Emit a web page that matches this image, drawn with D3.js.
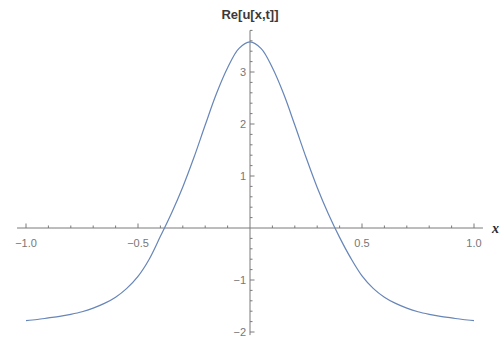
<!DOCTYPE html>
<html>
<head>
<meta charset="utf-8">
<script src="https://cdn.jsdelivr.net/npm/d3@7"></script>
<style>
  html, body { margin: 0; padding: 0; background: #fff; }
  svg { display: block; }
</style>
</head>
<body>
<svg id="chart" width="504" height="342"></svg>
<script>
// Sampled profile of Re[u[x,t]] along x
const xValues = [
  -1.00, -0.95, -0.90, -0.85, -0.80, -0.75, -0.70, -0.65, -0.60, -0.55,
  -0.50, -0.45, -0.40, -0.35, -0.30, -0.25, -0.20, -0.15, -0.10, -0.05,
   0.00,
   0.05,  0.10,  0.15,  0.20,  0.25,  0.30,  0.35,  0.40,  0.45,  0.50,
   0.55,  0.60,  0.65,  0.70,  0.75,  0.80,  0.85,  0.90,  0.95,  1.00
];
const reValues = [
  -1.78, -1.76, -1.73, -1.70, -1.66, -1.61, -1.54, -1.45, -1.33, -1.16,
  -0.93, -0.60, -0.16,  0.29,  0.79,  1.36,  1.98,  2.58,  3.08,  3.45,
   3.58,
   3.45,  3.08,  2.58,  1.98,  1.36,  0.78,  0.27, -0.18, -0.58, -0.92,
  -1.16, -1.33, -1.45, -1.54, -1.61, -1.66, -1.70, -1.73, -1.76, -1.78
];
const xMajorTicks = [-1.0, -0.5, 0.5, 1.0];
const xTickLabels = ["\u22121.0", "\u22120.5", "0.5", "1.0"];
const yMajorTicks = [-2, -1, 1, 2, 3];
const yTickLabels = ["\u22122", "\u22121", "1", "2", "3"];

const svg = d3.select("#chart");

const x = d3.scaleLinear().domain([-1, 1]).range([26, 474]);
const y = d3.scaleLinear().domain([0, 1]).range([228, 176]);

const axisColor = "#7a7a7a";
const labelColor = "#777777";

// horizontal axis line
svg.append("line")
  .attr("x1", x(-1.04)).attr("x2", x(1.04))
  .attr("y1", y(0)).attr("y2", y(0))
  .attr("stroke", axisColor).attr("stroke-width", 1);

// vertical axis line
svg.append("line")
  .attr("x1", x(0)).attr("x2", x(0))
  .attr("y1", y(3.8)).attr("y2", y(-2.06))
  .attr("stroke", axisColor).attr("stroke-width", 1);

// x ticks: minor every 0.1, major at labelled values (pointing up)
const xMinor = d3.range(-10, 11).map(d => d / 10).filter(d => d !== 0);
svg.append("g").selectAll("line")
  .data(xMinor)
  .join("line")
  .attr("x1", d => x(d)).attr("x2", d => x(d))
  .attr("y1", y(0))
  .attr("y2", d => y(0) - (xMajorTicks.some(m => Math.abs(m - d) < 1e-9) ? 4.5 : 2.5))
  .attr("stroke", axisColor).attr("stroke-width", 1);

// y ticks: minor every 0.2, major at integers (pointing right)
const yMinor = d3.range(-10, 20).map(d => d / 5).filter(d => d !== 0);
svg.append("g").selectAll("line")
  .data(yMinor)
  .join("line")
  .attr("x1", x(0))
  .attr("x2", d => x(0) + (yMajorTicks.some(m => Math.abs(m - d) < 1e-9) ? 4.5 : 2.5))
  .attr("y1", d => y(d)).attr("y2", d => y(d))
  .attr("stroke", axisColor).attr("stroke-width", 1);

// tick labels
svg.append("g").selectAll("text")
  .data(xMajorTicks)
  .join("text")
  .attr("x", d => x(d))
  .attr("y", y(0) + 19)
  .attr("text-anchor", "middle")
  .attr("font-family", "Liberation Sans, Arial, sans-serif")
  .attr("font-size", 11)
  .attr("fill", labelColor)
  .text((d, i) => xTickLabels[i]);

svg.append("g").selectAll("text")
  .data(yMajorTicks)
  .join("text")
  .attr("x", x(0) - 4)
  .attr("y", d => y(d) + 4)
  .attr("text-anchor", "end")
  .attr("font-family", "Liberation Sans, Arial, sans-serif")
  .attr("font-size", 11)
  .attr("fill", labelColor)
  .text((d, i) => yTickLabels[i]);

// axis labels
svg.append("text")
  .attr("x", x(0))
  .attr("y", 19)
  .attr("text-anchor", "middle")
  .attr("font-family", "Liberation Sans, Arial, sans-serif")
  .attr("font-size", 13)
  .attr("font-weight", "bold")
  .attr("fill", "#3a3a3a")
  .text("Re[u[x,t]]");

svg.append("text")
  .attr("x", 492)
  .attr("y", y(0) + 5)
  .attr("font-family", "Liberation Serif, Times New Roman, serif")
  .attr("font-size", 14)
  .attr("font-style", "italic")
  .attr("font-weight", "bold")
  .attr("fill", "#2a2a2a")
  .text("x");

// the curve
const line = d3.line()
  .x(d => x(d[0]))
  .y(d => y(d[1]))
  .curve(d3.curveCatmullRom.alpha(0.5));

svg.append("path")
  .datum(xValues.map((v, i) => [v, reValues[i]]))
  .attr("d", line)
  .attr("fill", "none")
  .attr("stroke", "#6685b8")
  .attr("stroke-width", 1.2);
</script>
</body>
</html>
